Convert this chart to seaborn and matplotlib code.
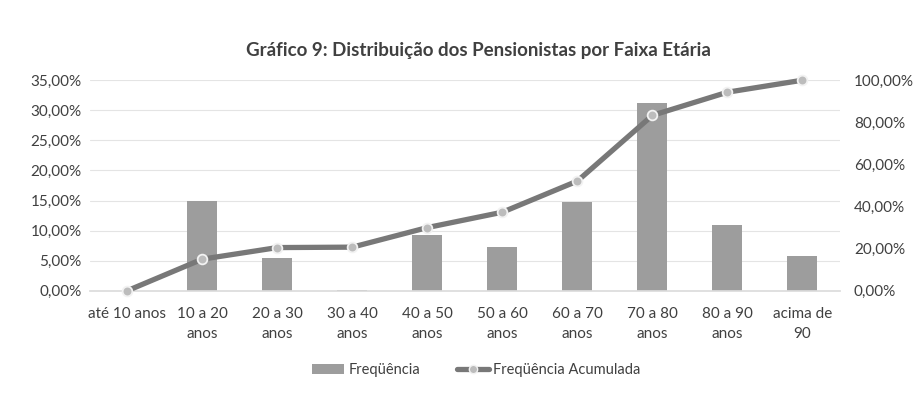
import matplotlib
matplotlib.use("Agg")
import matplotlib.pyplot as plt
from matplotlib.ticker import FuncFormatter, MultipleLocator
from matplotlib.patches import Patch
from matplotlib.lines import Line2D
import seaborn as sns
import numpy as np
import pandas as pd

categories = ["até 10 anos", "10 a 20\nanos", "20 a 30\nanos", "30 a 40\nanos",
              "40 a 50\nanos", "50 a 60\nanos", "60 a 70\nanos", "70 a 80\nanos",
              "80 a 90\nanos", "acima de\n90"]
frequencia = [0.0, 15.0, 5.5, 0.2, 9.3, 7.3, 14.8, 31.2, 11.0, 5.7]
acumulada = [0.0, 15.0, 20.5, 20.7, 30.0, 37.3, 52.1, 83.3, 94.3, 100.0]

title = "Gráfico 9: Distribuição dos Pensionistas por Faixa Etária"

sns.set_theme(style="white")
plt.rcParams['font.family'] = ['Lato', 'DejaVu Sans']

df = pd.DataFrame({"cat": categories, "freq": frequencia, "acum": acumulada})

fig = plt.figure(figsize=(9.16, 4.01), dpi=100)
ax = fig.add_axes([0.098, 0.275, 0.819, 0.525])

bar_color = "#9d9d9d"
line_color = "#787878"
text_color = "#404040"

sns.barplot(data=df, x="cat", y="freq", ax=ax, color=bar_color, width=0.4,
            saturation=1, edgecolor="none")
ax.set_ylim(0, 35)
ax.yaxis.set_major_locator(MultipleLocator(5))
ax.yaxis.set_major_formatter(FuncFormatter(lambda v, p: f"{v:.2f}".replace(".", ",") + "%"))
ax.grid(axis="y", color="#e4e4e4", linewidth=0.8)
ax.set_axisbelow(True)
ax.set_xlabel("")
ax.set_ylabel("")
for s in ax.spines.values():
    s.set_visible(False)
ax.spines["bottom"].set_visible(True)
ax.spines["bottom"].set_color("#dcdcdc")
ax.tick_params(axis="y", length=0, labelsize=11, labelcolor=text_color, pad=6)
ax.tick_params(axis="x", length=0, labelsize=11, labelcolor=text_color, pad=12)
for lbl in ax.get_xticklabels():
    lbl.set_linespacing(1.55)

ax2 = ax.twinx()
sns.pointplot(data=df, x="cat", y="acum", ax=ax2, color=line_color, markers="o",
              linewidth=3.8, markersize=7, markerfacecolor="#bcbcbc",
              markeredgecolor="#f2f2f2", markeredgewidth=1.3)
for ln in ax2.lines:
    ln.set_clip_on(False)
for c in ax2.collections:
    c.set_clip_on(False)
ax2.set_ylim(0, 100)
ax2.yaxis.set_major_locator(MultipleLocator(20))
ax2.yaxis.set_major_formatter(FuncFormatter(lambda v, p: f"{v:.2f}".replace(".", ",") + "%"))
ax2.set_xlabel("")
ax2.set_ylabel("")
for s in ax2.spines.values():
    s.set_visible(False)
ax2.tick_params(axis="both", length=0, labelsize=11, labelcolor=text_color, pad=10)
ax2.set_xlim(-0.5, len(categories) - 0.5)

fig.text(0.522, 0.873, title, ha="center", va="center", fontsize=13.5,
         fontweight="bold", color="#404040")

handles = [Patch(facecolor=bar_color, edgecolor="none"),
           Line2D([0], [0], color=line_color, linewidth=3.8, marker="o",
                  markersize=6, markerfacecolor="#bcbcbc", markeredgecolor="#f2f2f2")]
fig.legend(handles, ["Freqüência", "Freqüência Acumulada"], loc="center",
           bbox_to_anchor=(0.52, 0.077), ncol=2, frameon=False, fontsize=10.5,
           labelcolor=text_color, handlelength=2.2, columnspacing=2.5, handletextpad=0.3)

fig.savefig("out.png", dpi=100, facecolor="white")
